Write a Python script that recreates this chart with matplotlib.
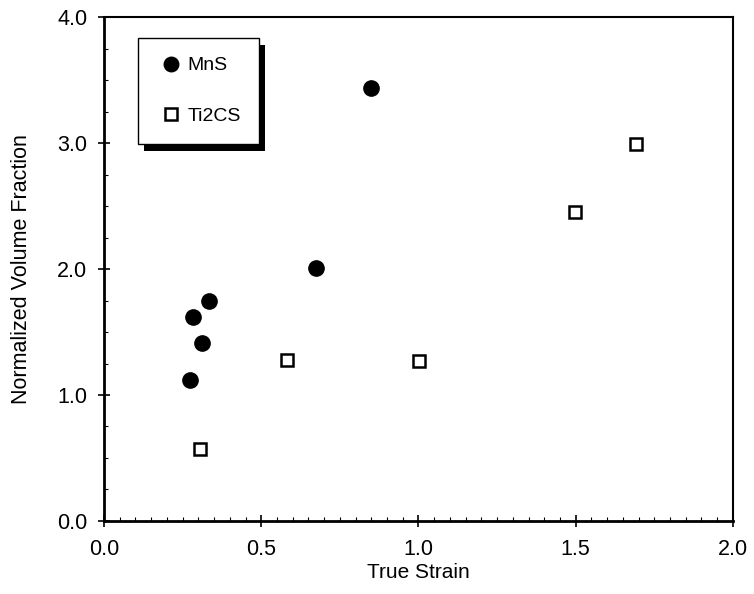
import numpy as np
import matplotlib
matplotlib.use('Agg')
import matplotlib.pyplot as plt
from matplotlib.ticker import MultipleLocator, FormatStrFormatter
from matplotlib.patches import Rectangle

plt.rcParams['font.family'] = ['Liberation Sans', 'DejaVu Sans']

# MnS inclusions
mns_strain = [0.273, 0.284, 0.312, 0.335, 0.674, 0.848]
mns_vf = [1.12, 1.62, 1.41, 1.75, 2.01, 3.44]

# Ti2CS inclusions
ti2cs_strain = [0.306, 0.581, 1.001, 1.497, 1.692]
ti2cs_vf = [0.57, 1.28, 1.27, 2.45, 2.99]

legend = ['MnS', 'Ti2CS']

fig = plt.figure(figsize=(7.54, 5.94), dpi=100)
ax = fig.add_axes([0.138, 0.123, 0.834, 0.848])

l1 = ax.plot(mns_strain, mns_vf, linestyle='none', marker='o', color='black',
             markersize=11)
l2 = ax.plot(ti2cs_strain, ti2cs_vf, linestyle='none', marker='s', markerfacecolor='white',
             markeredgecolor='black', markeredgewidth=1.8, markersize=9)

ax.set_xlim(0, 2)
ax.set_ylim(0, 4)
ax.xaxis.set_major_locator(MultipleLocator(0.5))
ax.xaxis.set_minor_locator(MultipleLocator(0.05))
ax.yaxis.set_major_locator(MultipleLocator(1.0))
ax.yaxis.set_minor_locator(MultipleLocator(0.25))
ax.xaxis.set_major_formatter(FormatStrFormatter('%.1f'))
ax.yaxis.set_major_formatter(FormatStrFormatter('%.1f'))
ax.tick_params(which='major', direction='inout', length=8, width=1.2, labelsize=15.5)
ax.tick_params(axis='x', which='major', pad=9)
ax.tick_params(axis='y', which='major', pad=8)
ax.tick_params(which='minor', direction='in', length=3, width=0.8)
for side in ['left', 'bottom']:
    ax.spines[side].set_linewidth(2)
for side in ['right', 'top']:
    ax.spines[side].set_linewidth(1.5)

ax.set_xlabel('True Strain', fontsize=15, labelpad=2)
ax.set_ylabel('Normalized Volume Fraction', fontsize=15.5, labelpad=18)

leg = ax.legend((l1[0], l2[0]), legend, loc='upper left', bbox_to_anchor=(0.054, 0.958),
                borderaxespad=0, fontsize=14, frameon=True, fancybox=False, framealpha=1,
                borderpad=0.95, labelspacing=1.7, handlelength=1.5, handletextpad=0.1,
                markerscale=0.95)
leg.get_frame().set_edgecolor('black')
leg.get_frame().set_facecolor('white')
leg.get_frame().set_linewidth(1.0)

# solid black drop shadow behind the legend box
fig.canvas.draw()
bb = leg.get_window_extent().transformed(fig.transFigure.inverted())
dx, dy = 6 / 754, 7 / 594
shadow = Rectangle((bb.x0 + dx, bb.y0 - dy), bb.width, bb.height, transform=fig.transFigure,
                   facecolor='black', edgecolor='none', zorder=4.5)
ax.add_artist(shadow)

plt.savefig('out.png', dpi=100)
